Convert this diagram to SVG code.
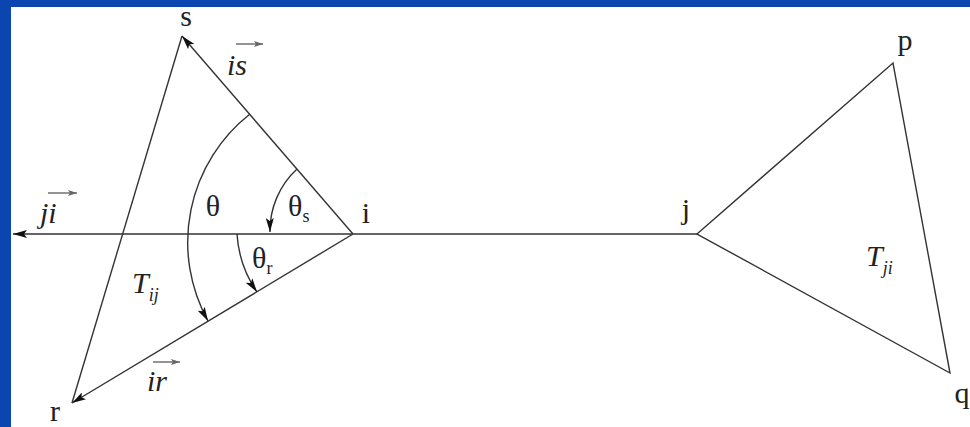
<svg xmlns="http://www.w3.org/2000/svg" width="970" height="427" viewBox="0 0 970 427">
<style>
.ln{stroke:#333;stroke-width:1.4;fill:none}
.vec{stroke:#666;stroke-width:1.4;fill:none}
.lbl{font-family:"Liberation Serif","Times New Roman",serif;font-size:30px;fill:#222}
.it{font-style:italic}
.sub{font-size:18px}
</style>
<defs>
<marker id="ah" viewBox="0 0 14 8" refX="14" refY="4" markerWidth="14" markerHeight="8" markerUnits="userSpaceOnUse" orient="auto">
<path d="M0,0 L14,4 L0,8 L3,4 Z" fill="#111"/>
</marker>
<marker id="sh" viewBox="0 0 9 6" refX="9" refY="3" markerWidth="9" markerHeight="6" markerUnits="userSpaceOnUse" orient="auto">
<path d="M0,0 L9,3 L0,6 L2,3 Z" fill="#666"/>
</marker>
</defs>
<rect x="0" y="0" width="970" height="427" fill="#ffffff"/>
<rect x="0" y="0" width="970" height="7" fill="#0b45b0"/>
<rect x="0" y="0" width="11" height="427" fill="#0b45b0"/>
<g id="connectors">
<line class="ln" x1="697" y1="234" x2="13" y2="234" marker-end="url(#ah)"/>
<line class="ln" x1="353" y1="234" x2="182" y2="36" marker-end="url(#ah)"/>
<line class="ln" x1="353" y1="234" x2="72" y2="403" marker-end="url(#ah)"/>
<line class="ln" x1="182" y1="36" x2="72" y2="403"/>
<polygon class="ln" points="697,234 893,63 950,373"/>
<path class="ln" d="M250,114 A163,163 0 0 0 208,321" marker-end="url(#ah)"/>
<path class="ln" d="M297,169 A84,84 0 0 0 270,232" marker-end="url(#ah)"/>
<path class="ln" d="M237,234 A115,115 0 0 0 257,292" marker-end="url(#ah)"/>
</g>
<g id="node-s"><text class="lbl" x="186" y="26" text-anchor="middle">s</text></g>
<g id="node-r"><text class="lbl" x="55" y="421" text-anchor="middle">r</text></g>
<g id="node-i"><text class="lbl" x="366" y="223" text-anchor="middle">i</text></g>
<g id="node-j"><text class="lbl" x="686" y="219" text-anchor="middle">j</text></g>
<g id="node-p"><text class="lbl" x="905" y="50" text-anchor="middle">p</text></g>
<g id="node-q"><text class="lbl" x="962" y="403" text-anchor="middle">q</text></g>
<g id="label-theta"><text class="lbl" x="213" y="216" text-anchor="middle">θ</text></g>
<g id="label-theta-s"><text class="lbl" x="288" y="216">θ<tspan class="sub" dy="6">s</tspan></text></g>
<g id="label-theta-r"><text class="lbl" x="252" y="268">θ<tspan class="sub" dy="6">r</tspan></text></g>
<g id="label-is">
<text class="lbl it" x="227" y="75">is</text>
<line class="vec" x1="236" y1="44" x2="263" y2="44" marker-end="url(#sh)"/>
</g>
<g id="label-ji">
<text class="lbl it" x="40" y="223">ji</text>
<line class="vec" x1="48" y1="193" x2="77" y2="193" marker-end="url(#sh)"/>
</g>
<g id="label-ir">
<text class="lbl it" x="147" y="391">ir</text>
<line class="vec" x1="153" y1="362" x2="180" y2="362" marker-end="url(#sh)"/>
</g>
<g id="label-Tij"><text class="lbl it" x="132" y="293" font-size="27">T<tspan class="sub" dy="8">ij</tspan></text></g>
<g id="label-Tji"><text class="lbl it" x="866" y="266" font-size="27">T<tspan class="sub" dy="8">ji</tspan></text></g>
</svg>
